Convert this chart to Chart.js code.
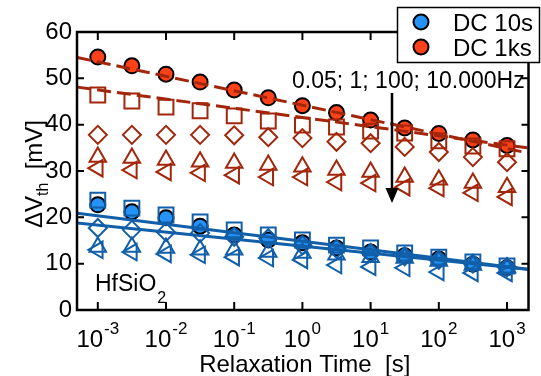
<!DOCTYPE html>
<html>
<head>
<meta charset="utf-8">
<script src="https://cdn.jsdelivr.net/npm/chart.js@4/dist/chart.umd.min.js"></script>
<style>body{margin:0;background:#fff}</style>
</head>
<body>
<canvas id="relax-chart" width="541" height="376"></canvas>
<script>
// relaxation times [s], half-decade steps
const times = [0.001, 0.00316, 0.01, 0.0316, 0.1, 0.316, 1, 3.16, 10, 31.6, 100, 316, 1000];

// DC 1ks stress (red)
const red1ks = [54.6, 52.7, 50.9, 49.2, 47.5, 45.8, 44.1, 42.6, 41.0, 39.3, 38.1, 36.7, 35.5];
const redSquares = [46.4, 45.1, 43.8, 43.0, 41.9, 40.8, 39.9, 39.5, 38.6, 38.2, 36.5, 35.4, 34.8];
const redDiamonds = [37.8, 37.8, 37.8, 37.8, 37.7, 37.3, 37.1, 36.3, 36.0, 35.2, 34.1, 33.0, 31.9];
const redUpTri = [33.0, 32.8, 32.4, 32.0, 31.7, 31.3, 30.9, 30.2, 29.8, 28.7, 28.1, 27.4, 26.5];
const redLeftTri = [30.6, 30.2, 29.8, 29.6, 29.1, 28.7, 28.7, 27.6, 27.4, 26.5, 26.3, 25.3, 24.4];

// DC 10s stress (blue)
const blue10s = [22.7, 21.2, 19.9, 18.1, 16.2, 15.1, 14.5, 13.4, 12.5, 11.7, 11.0, 9.9, 9.1];
const blueSquares = [23.7, 22.0, 20.5, 19.0, 17.3, 16.2, 15.1, 14.0, 13.4, 12.3, 11.4, 10.4, 9.5];
const blueDiamonds = [17.7, 17.3, 16.8, 16.6, 15.8, 15.5, 14.0, 13.2, 12.3, 11.6, 10.8, 10.0, 9.2];
const blueUpTri = [13.6, 13.6, 13.4, 13.0, 13.0, 12.5, 12.3, 11.9, 11.4, 11.2, 10.6, 9.7, 9.1];
const blueLeftTri = [13.0, 12.5, 12.1, 11.9, 11.4, 11.2, 10.8, 9.7, 9.3, 9.1, 8.2, 8.0, 8.0];

// fit lines, read at both ends of the axis
const fitTimes = [0.0005, 2000];
const redFitA = [54.5, 33.9];
const redFitB = [48.1, 35.0];
const blueFitA = [20.9, 8.8];
const blueFitB = [18.8, 8.8];

const xTickExponents = [-3, -2, -1, 0, 1, 2, 3];
const yTickValues = [0, 10, 20, 30, 40, 50, 60];
const legendLabels = ['DC 10s', 'DC 1ks'];

const FONT = "'Liberation Sans', Arial, sans-serif";
const RED_FILL = '#ff4119';
const RED_DARK = '#a2260a';
const BLUE_FILL = '#2592f5';
const BLUE_DARK = '#115fa9';

const pts = (xs, ys) => xs.map((t, i) => ({ x: t, y: ys[i] }));

const filled = (label, ys, fill) => ({
    label, data: pts(times, ys), order: 3,
    pointStyle: 'circle', pointRadius: 7.5, pointHoverRadius: 7.5,
    backgroundColor: fill, borderColor: '#000', borderWidth: 2
});

const open = (label, ys, color, style, radius, rotation) => ({
    label, data: pts(times, ys), order: 2,
    pointStyle: style, pointRadius: radius, pointHoverRadius: radius,
    pointRotation: rotation || 0,
    backgroundColor: 'rgba(0,0,0,0)', borderColor: color, borderWidth: 2
});

const fit = (label, ys, color, dash) => ({
    label, data: pts(fitTimes, ys), order: 1,
    showLine: true, pointRadius: 0, pointHoverRadius: 0,
    borderColor: color, borderWidth: 3, borderDash: dash, fill: false
});

const decorations = {
    id: 'decorations',
    afterDraw(chart) {
        const { ctx, chartArea: a, scales: { x, y } } = chart;
        ctx.save();

        // frame with inward ticks
        ctx.strokeStyle = '#000';
        ctx.lineWidth = 2.5;
        ctx.strokeRect(a.left, a.top, a.right - a.left, a.bottom - a.top);
        ctx.lineWidth = 2;
        ctx.beginPath();
        xTickExponents.forEach(e => {
            const px = x.getPixelForValue(Math.pow(10, e));
            ctx.moveTo(px, a.bottom); ctx.lineTo(px, a.bottom - 8);
            ctx.moveTo(px, a.top); ctx.lineTo(px, a.top + 8);
        });
        yTickValues.forEach(v => {
            const py = y.getPixelForValue(v);
            ctx.moveTo(a.left, py); ctx.lineTo(a.left + 7, py);
            ctx.moveTo(a.right, py); ctx.lineTo(a.right - 7, py);
        });
        ctx.stroke();

        ctx.fillStyle = '#000';
        ctx.textBaseline = 'alphabetic';
        ctx.textAlign = 'left';

        // x tick labels 10^n
        xTickExponents.forEach(e => {
            const px = x.getPixelForValue(Math.pow(10, e));
            const exp = String(e);
            ctx.font = '24px ' + FONT;
            const wBase = ctx.measureText('10').width;
            ctx.font = '17px ' + FONT;
            const wExp = ctx.measureText(exp).width;
            const x0 = px - (wBase + wExp + 1) / 2;
            ctx.font = '24px ' + FONT;
            ctx.fillText('10', x0, 347);
            ctx.font = '17px ' + FONT;
            ctx.fillText(exp, x0 + wBase + 1, 334);
        });

        // x title
        ctx.font = '24px ' + FONT;
        ctx.textAlign = 'center';
        ctx.fillText('Relaxation Time  [s]', (a.left + a.right) / 2 + 2, 372);

        // y title, rotated
        ctx.save();
        ctx.translate(42, (a.top + a.bottom) / 2 + 3);
        ctx.rotate(-Math.PI / 2);
        ctx.textAlign = 'left';
        ctx.font = '24px ' + FONT;
        const wMain = ctx.measureText('\u0394V').width;
        const wTail = ctx.measureText('  [mV]').width;
        ctx.font = '16px ' + FONT;
        const wSub = ctx.measureText('th').width;
        let cx = -(wMain + wSub + wTail) / 2;
        ctx.font = '24px ' + FONT;
        ctx.fillText('\u0394V', cx, 0);
        cx += wMain;
        ctx.font = '16px ' + FONT;
        ctx.fillText('th', cx, 6);
        cx += wSub;
        ctx.font = '24px ' + FONT;
        ctx.fillText('  [mV]', cx, 0);
        ctx.restore();

        // material label
        ctx.textAlign = 'left';
        ctx.font = '23px ' + FONT;
        ctx.fillText('HfSiO', 95, 291);
        const wHf = ctx.measureText('HfSiO').width;
        ctx.font = '16px ' + FONT;
        ctx.fillText('2', 95 + wHf + 1, 303);

        // frequency annotation + arrow
        ctx.font = '23px ' + FONT;
        ctx.fillText('0.05; 1; 100; 10.000Hz', 292, 88);
        ctx.lineWidth = 2.5;
        ctx.beginPath();
        ctx.moveTo(392, 93); ctx.lineTo(392, 192);
        ctx.stroke();
        ctx.beginPath();
        ctx.moveTo(385.5, 188); ctx.lineTo(398.5, 188); ctx.lineTo(392, 203);
        ctx.closePath();
        ctx.fill();

        // legend box
        ctx.fillStyle = '#fff';
        ctx.fillRect(397, 7, 143, 55);
        ctx.lineWidth = 1.5;
        ctx.strokeStyle = '#000';
        ctx.strokeRect(397.5, 7.5, 142, 55);
        [BLUE_FILL, RED_FILL].forEach((c, i) => {
            const cy = 22 + i * 25;
            ctx.beginPath();
            ctx.arc(421, cy, 7.5, 0, Math.PI * 2);
            ctx.fillStyle = c;
            ctx.fill();
            ctx.lineWidth = 2;
            ctx.stroke();
            ctx.fillStyle = '#000';
            ctx.font = '24px ' + FONT;
            ctx.fillText(legendLabels[i], 453, 31 + i * 25);
        });

        ctx.restore();
    }
};

new Chart(document.getElementById('relax-chart'), {
    type: 'scatter',
    data: {
        datasets: [
            fit('red fit A', redFitA, RED_DARK, [14, 6]),
            fit('red fit B', redFitB, RED_DARK, [14, 6]),
            fit('blue fit A', blueFitA, BLUE_DARK, []),
            fit('blue fit B', blueFitB, BLUE_DARK, []),
            open('red sq', redSquares, RED_DARK, 'rect', 10.5),
            open('red dia', redDiamonds, RED_DARK, 'rectRot', 9),
            open('red up', redUpTri, RED_DARK, 'triangle', 9.5),
            open('red left', redLeftTri, RED_DARK, 'triangle', 9.5, -90),
            open('blue sq', blueSquares, BLUE_DARK, 'rect', 10.5),
            open('blue dia', blueDiamonds, BLUE_DARK, 'rectRot', 9),
            open('blue up', blueUpTri, BLUE_DARK, 'triangle', 9.5),
            open('blue left', blueLeftTri, BLUE_DARK, 'triangle', 9.5, -90),
            filled(legendLabels[1], red1ks, RED_FILL),
            filled(legendLabels[0], blue10s, BLUE_FILL)
        ]
    },
    options: {
        responsive: false,
        animation: false,
        devicePixelRatio: 1,
        clip: false,
        layout: { padding: { top: 32, right: 6, left: 0, bottom: 0 } },
        plugins: { legend: { display: false }, tooltip: { enabled: false } },
        scales: {
            x: {
                type: 'logarithmic',
                min: Math.pow(10, -3.305),
                max: Math.pow(10, 3.315),
                grid: { display: false, drawTicks: false },
                border: { display: false },
                ticks: { display: false },
                afterFit: s => { s.height = 66; }
            },
            y: {
                min: 0,
                max: 60,
                grid: { display: false, drawTicks: false },
                border: { display: false },
                ticks: {
                    stepSize: 10,
                    padding: 5,
                    color: '#000',
                    font: { family: FONT, size: 24 }
                },
                afterFit: s => { s.width = 77; }
            }
        }
    },
    plugins: [decorations]
});
</script>
</body>
</html>
